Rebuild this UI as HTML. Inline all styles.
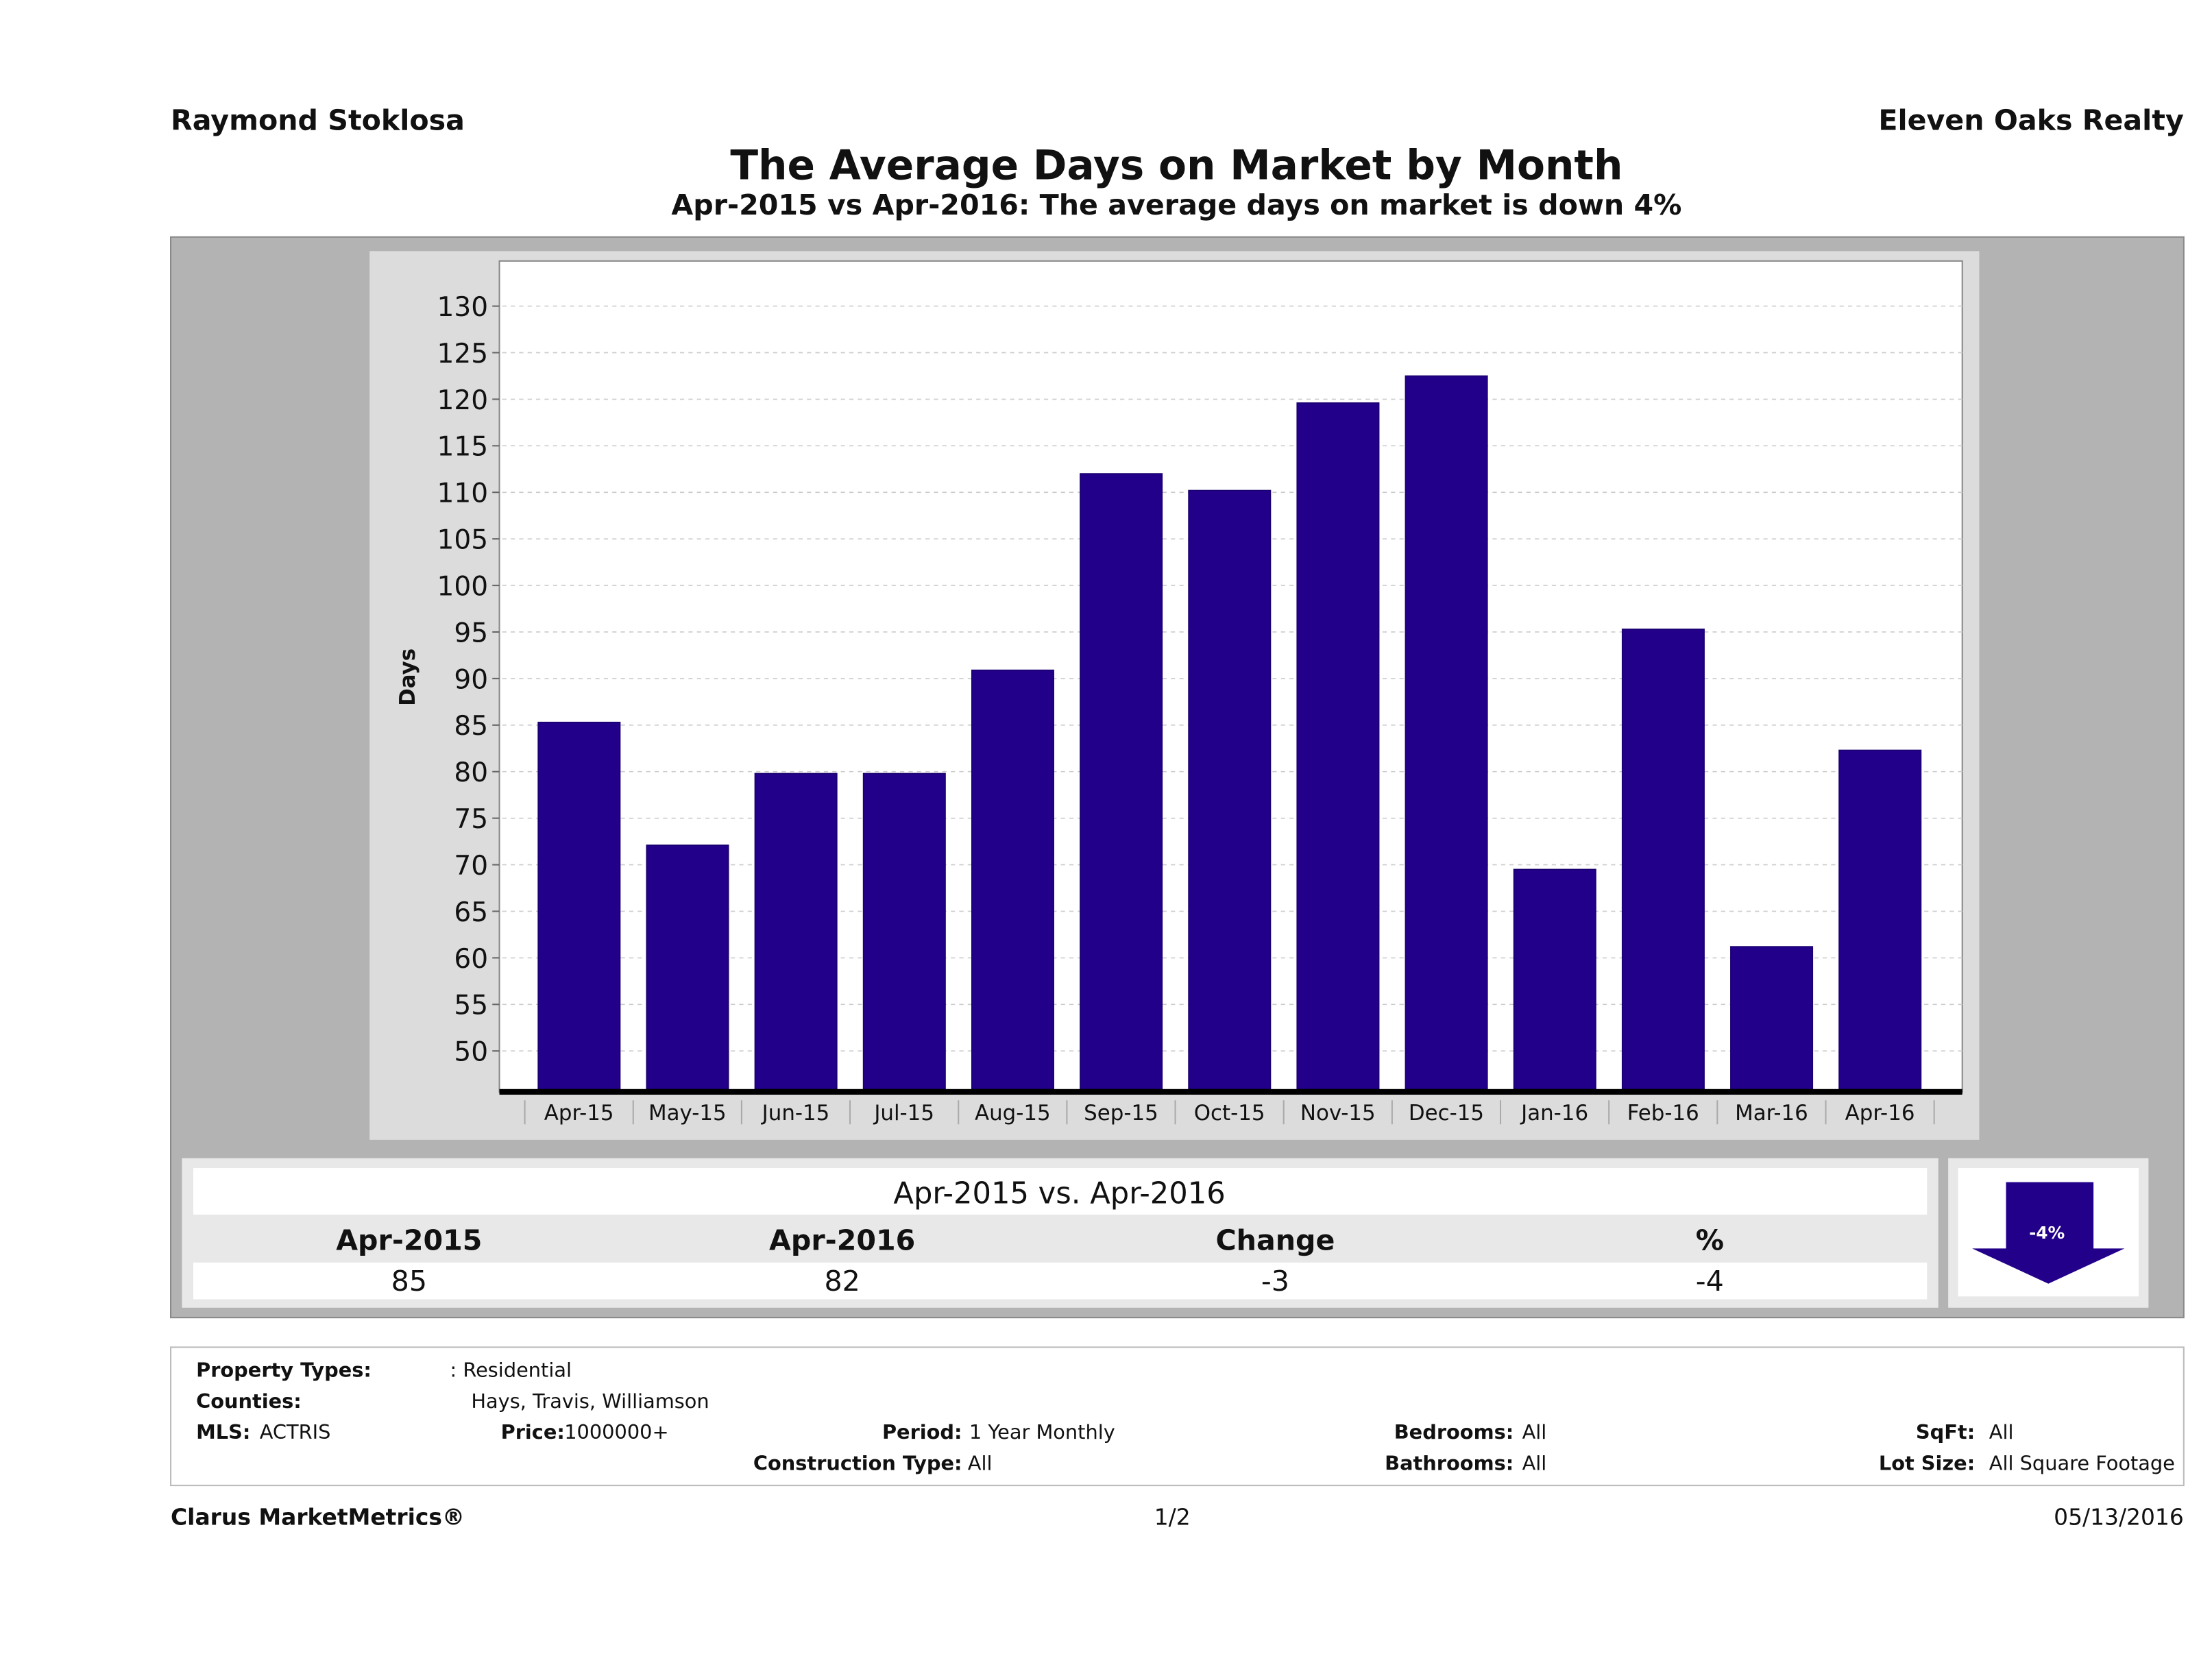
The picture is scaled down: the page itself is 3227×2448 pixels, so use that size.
<!DOCTYPE html>
<html><head><meta charset="utf-8"><style>
html,body{margin:0;padding:0;background:#fff;}
svg{display:block;font-family:"DejaVu Sans","Liberation Sans",sans-serif;}
</style></head><body>
<svg id="chart" width="3227" height="2448" viewBox="0 0 1568 1189.5" xmlns="http://www.w3.org/2000/svg">
<text x="121" y="92" font-size="20" font-weight="bold" fill="#111">Raymond Stoklosa</text>
<text x="1548" y="92" font-size="20" font-weight="bold" fill="#111" text-anchor="end">Eleven Oaks Realty</text>
<text x="834" y="127" font-size="29" font-weight="bold" fill="#111" text-anchor="middle">The Average Days on Market by Month</text>
<text x="834" y="152" font-size="20" font-weight="bold" fill="#111" text-anchor="middle">Apr-2015 vs Apr-2016: The average days on market is down 4%</text>
<rect x="121" y="168" width="1427" height="766" fill="#b3b3b3" stroke="#888" stroke-width="1"/>
<rect x="262" y="178" width="1141" height="630" fill="#dcdcdc"/>
<rect x="354" y="185" width="1037" height="589" fill="#fff" stroke="#888" stroke-width="1"/>
<g id="grid"></g><g id="bars"></g><g id="yaxis"></g><g id="xaxis"></g>
<rect x="354" y="772" width="1037" height="4" fill="#000"/>
<text x="0" y="0" font-size="15" font-weight="bold" fill="#111" text-anchor="middle" transform="translate(294,480) rotate(-90)">Days</text>

<rect x="129" y="821" width="1245" height="106" fill="#e8e8e8"/>
<rect x="137" y="828" width="1229" height="33" fill="#fff"/>
<rect x="137" y="895" width="1229" height="26" fill="#fff"/>
<text x="751" y="853" font-size="21" fill="#111" text-anchor="middle">Apr-2015 vs. Apr-2016</text>
<g font-size="20" font-weight="bold" fill="#111" text-anchor="middle">
<text x="290" y="886">Apr-2015</text>
<text x="597" y="886">Apr-2016</text>
<text x="904" y="886">Change</text>
<text x="1212" y="886">%</text>
</g>
<g font-size="20" fill="#111" text-anchor="middle">
<text x="290" y="915">85</text>
<text x="597" y="915">82</text>
<text x="904" y="915">-3</text>
<text x="1212" y="915">-4</text>
</g>
<rect x="1381" y="821" width="142" height="106" fill="#e8e8e8"/>
<rect x="1388" y="828" width="128" height="91" fill="#fff"/>
<polygon points="1422,838 1484,838 1484,885 1506,885 1452,910 1398,885 1422,885" fill="#22008a"/>
<text x="1451" y="878" font-size="12" font-weight="bold" fill="#fff" text-anchor="middle">-4%</text>

<rect x="121" y="955" width="1427" height="98" fill="#fff" stroke="#bbb" stroke-width="1"/>
<g font-size="14" fill="#111">
<text x="139" y="976" font-weight="bold">Property Types:</text>
<text x="319" y="976">: Residential</text>
<text x="139" y="998" font-weight="bold">Counties:</text>
<text x="334" y="998">Hays, Travis, Williamson</text>
<text x="139" y="1020" font-weight="bold">MLS:</text>
<text x="184" y="1020">ACTRIS</text>
<text x="355" y="1020" font-weight="bold">Price:</text>
<text x="400" y="1020">1000000+</text>
<text x="682" y="1020" font-weight="bold" text-anchor="end">Period:</text>
<text x="687" y="1020">1 Year Monthly</text>
<text x="682" y="1042" font-weight="bold" text-anchor="end">Construction Type:</text>
<text x="686" y="1042">All</text>
<text x="1073" y="1020" font-weight="bold" text-anchor="end">Bedrooms:</text>
<text x="1079" y="1020">All</text>
<text x="1073" y="1042" font-weight="bold" text-anchor="end">Bathrooms:</text>
<text x="1079" y="1042">All</text>
<text x="1400" y="1020" font-weight="bold" text-anchor="end">SqFt:</text>
<text x="1410" y="1020">All</text>
<text x="1400" y="1042" font-weight="bold" text-anchor="end">Lot Size:</text>
<text x="1410" y="1042">All Square Footage</text>
</g>
<text x="121" y="1081" font-size="16" font-weight="bold" fill="#111">Clarus MarketMetrics®</text>
<text x="831" y="1081" font-size="16" fill="#111" text-anchor="middle">1/2</text>
<text x="1548" y="1081" font-size="16" fill="#111" text-anchor="end">05/13/2016</text>
</svg>
<script>
const categories = ["Apr-15","May-15","Jun-15","Jul-15","Aug-15","Sep-15","Oct-15","Nov-15","Dec-15","Jan-16","Feb-16","Mar-16","Apr-16"];
const daysValues = [85.3, 72.1, 79.8, 79.8, 90.9, 112, 110.2, 119.6, 122.5, 69.5, 95.3, 61.2, 82.3];
const yTicks = [50,55,60,65,70,75,80,85,90,95,100,105,110,115,120,125,130];

const NS = "http://www.w3.org/2000/svg";
const plotL = 354, plotR = 1391, catL = 372, catW = 76.85;
const y130 = 217, y50 = 745;
function yScale(v){ return y50 - (v - 50) * (y50 - y130) / 80; }
function xScale(i){ return catL + i * catW; }
const baseY = 772;
function mk(tag, attrs, parent){ const e = document.createElementNS(NS, tag); for (const k in attrs) e.setAttribute(k, attrs[k]); parent.appendChild(e); return e; }

const grid = document.getElementById('grid'), yax = document.getElementById('yaxis');
yTicks.forEach(t => {
  const y = yScale(t);
  const g = mk('line', {x1: plotL+2, x2: plotR, y1: y, y2: y, stroke: '#ccc', 'stroke-width': 0.8, 'stroke-dasharray': '3,3'}, grid);
  
  
  const tk = mk('line', {x1: plotL-5, x2: plotL, y1: y, y2: y, stroke: '#666', 'stroke-width': 1}, yax);
  
  
  const lb = mk('text', {x: plotL-8, y: y+7, 'font-size': 19, fill: '#111', 'text-anchor': 'end'}, yax);
  lb.textContent = t;
  
  
});

const bars = document.getElementById('bars'), xax = document.getElementById('xaxis');
categories.forEach((c, i) => {
  const x0 = xScale(i);
  const top = yScale(daysValues[i]);
  const b = mk('rect', {x: x0 + 9.5, y: top, width: 58, height: baseY - top, fill: '#22008a', stroke: '#1a0070', 'stroke-width': 0.8}, bars);
  
  
  const s = mk('line', {x1: x0, x2: x0, y1: 780, y2: 797, stroke: '#aaa', 'stroke-width': 1}, xax);
  
  
  const l = mk('text', {x: x0 + catW/2, y: 794, 'font-size': 15, fill: '#111', 'text-anchor': 'middle'}, xax);
  l.textContent = c;
  
  
});
const se = mk('line', {x1: xScale(13), x2: xScale(13), y1: 780, y2: 797, stroke: '#aaa', 'stroke-width': 1}, xax);


</script>
</body></html>
